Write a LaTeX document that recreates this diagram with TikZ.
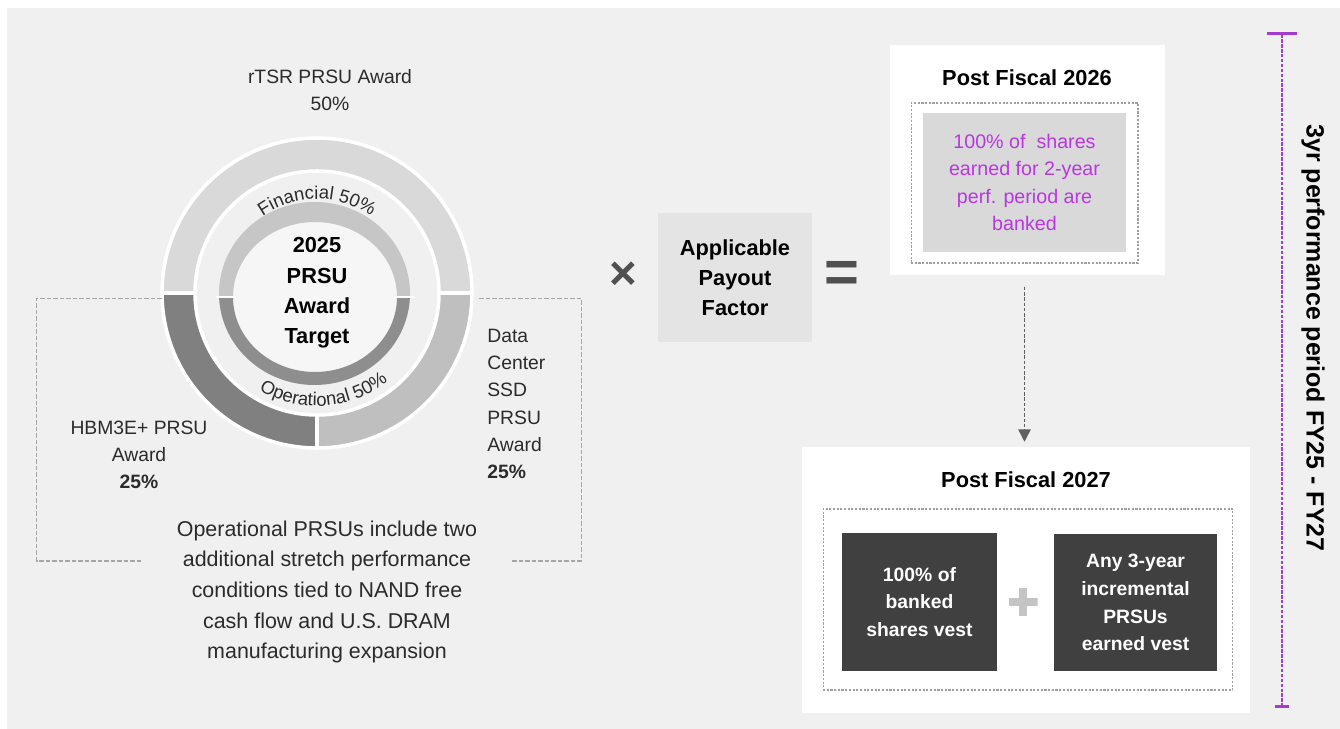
\documentclass[tikz,border=0pt]{standalone}
\usepackage{fontspec}
\setmainfont{Liberation Sans}
\usepackage{tikz}
\definecolor{panelgray}{HTML}{F0F0F0}
\definecolor{ringlight}{HTML}{D9D9D9}
\definecolor{ringmid}{HTML}{BFBFBF}
\definecolor{ringdark}{HTML}{808080}
\definecolor{innerlight}{HTML}{C6C6C6}
\definecolor{innerdark}{HTML}{8E8E8E}
\definecolor{payoutgray}{HTML}{E4E4E4}
\definecolor{bankgray}{HTML}{D9D9D9}
\definecolor{charcoal}{HTML}{404040}
\definecolor{darktext}{HTML}{2B2B2B}
\definecolor{opgray}{HTML}{505050}
\definecolor{plusgray}{HTML}{C4C4C4}
\definecolor{orchid}{RGB}{185,55,225}
\definecolor{periodpurple}{RGB}{165,60,205}
\usetikzlibrary{arrows.meta, decorations.text}

\begin{document}
\begin{tikzpicture}[x=0.02cm, y=0.02cm,
	awardtext/.style={align=center, inner sep=0pt, text=darktext, font=\fontsize{11}{15.5}\selectfont},
	boldtext/.style={align=center, inner sep=0pt, text=black, font=\bfseries\fontsize{12.4}{17.2}\selectfont},
	whitebox/.style={fill=white, inner sep=0pt},
	dashbox/.style={draw=gray!75, dash pattern=on 1.2pt off 0.9pt, line width=0.6pt, inner sep=0pt},
	darkbox/.style={fill=charcoal, text=white, align=center, inner sep=0pt, font=\bfseries\fontsize{11}{15.8}\selectfont},
	opsign/.style={inner sep=0pt, text=opgray, font=\bfseries\fontsize{27}{27}\selectfont},
	plussign/.style={minimum size=0.58cm, inner sep=0pt, path picture={\draw[plusgray, line width=5pt] (path picture bounding box.west) -- (path picture bounding box.east) (path picture bounding box.north) -- (path picture bounding box.south);}},
	bracket/.style={draw=gray!70, dash pattern=on 2.5pt off 1.2pt, line width=0.6pt},
	segment/.style={draw=white, line width=2pt},
	flowarrow/.style={draw=gray!75!black, line width=0.8pt, dash pattern=on 2pt off 1pt, -{Triangle[width=7pt, length=7pt]}, shorten <=6.5pt, shorten >=2.8pt},
	periodline/.style={draw=periodpurple, line width=0.9pt, dash pattern=on 2pt off 0.8pt, {Bar[width=17pt, line width=1.7pt]}-{Bar[width=8.5pt, line width=1.7pt]}}
	]
			\useasboundingbox (0,0) rectangle (1340,-729);
			\fill[white] (0,0) rectangle (1340,-729);
			\fill[panelgray] (7,-8) rectangle (1340,-729);
			
			\node[circle, minimum size=6.2cm, inner sep=0pt] (donut) at (317,-293) {};
			\filldraw[segment, fill=ringlight] ([shift={(0:155)}]donut.center) arc[start angle=0, end angle=180, radius=155] -- ++(33,0) arc[start angle=180, end angle=0, radius=122] -- cycle;
			\filldraw[segment, fill=ringdark] ([shift={(180:155)}]donut.center) arc[start angle=180, end angle=270, radius=155] -- ++(0,33) arc[start angle=270, end angle=180, radius=122] -- cycle;
			\filldraw[segment, fill=ringmid] ([shift={(270:155)}]donut.center) arc[start angle=270, end angle=360, radius=155] -- ++(-33,0) arc[start angle=360, end angle=270, radius=122] -- cycle;
			
			\fill[white!40!panelgray] (315,-297) ellipse[x radius=82, y radius=75];
			\begin{scope}
				\clip (200,-297) rectangle (430,-195);
				\fill[innerlight, even odd rule] (314.5,-293.5) ellipse[x radius=95.5, y radius=91.5] (315,-297) ellipse[x radius=82, y radius=75];
			\end{scope}
			\begin{scope}
				\clip (200,-297) rectangle (430,-400);
				\fill[innerdark, even odd rule] (314.5,-293.5) ellipse[x radius=95.5, y radius=91.5] (315,-297) ellipse[x radius=82, y radius=75];
			\end{scope}
			\draw[white, line width=1.5pt] (216,-297) -- (236,-297) (394,-297) -- (414,-297);
			
			\path[decorate, decoration={text along path, text align=center, text color=darktext,
				text={|\fontsize{10.5}{12}\selectfont|Financial 50{\%}}}] ([shift={(128:94)}]donut.center) arc[start angle=128, end angle=52, radius=94];
			\path[decorate, decoration={text along path, text align=center, text color=darktext,
				text={|\fontsize{10.5}{12}\selectfont|Operational 50{\%}}}] ([shift={(234:113)}]donut.center) arc[start angle=234, end angle=314, radius=113];
			
			\node[boldtext] (target) at (donut.center) {2025\\PRSU\\Award\\Target};
			\node[awardtext] (rtsr) at (330,-90) {rTSR PRSU Award\\50\%};
			\node[awardtext] (hbm) at (139,-455) {HBM3E+ PRSU\\Award\\\textbf{25\%}};
			\node[awardtext, align=left, anchor=west] (ssd) at (487,-404) {Data\\Center\\SSD\\PRSU\\Award\\\textbf{25\%}};
			\node[awardtext, font=\fontsize{12.2}{17.4}\selectfont] (note) at (327,-592) {Operational PRSUs include two\\additional stretch performance\\conditions tied to NAND free\\cash flow and U.S. DRAM\\manufacturing expansion};
			
			\coordinate (lend) at (142,-561);
			\coordinate (rend) at (511,-561);
			\draw[bracket] (donut.182) -- ++(-125,0) |- (lend);
			\draw[bracket, shorten <=4pt] (donut.-2) -- ++(109,0) |- (rend);
			
			\node[opsign] (times) at (623,-276) {×};
			\node[boldtext, fill=payoutgray, minimum width=3.08cm, minimum height=2.58cm] (payout) at (735,-277.5) {Applicable\\Payout\\Factor};
			\node[opsign, font=\bfseries\fontsize{34}{34}\selectfont] (equals) at (842,-277) {=};
			
			\node[whitebox, minimum width=5.5cm, minimum height=4.6cm] (fy26) at (1027.5,-160) {};
			\node[boldtext] (fy26title) at (1027,-78) {Post Fiscal 2026};
			\node[dashbox, minimum width=4.54cm, minimum height=3.2cm] (bankframe) at (1024.5,-183) {};
			\node[fill=bankgray, inner sep=0pt, minimum width=4.06cm, minimum height=2.78cm, align=center, text=orchid, font=\fontsize{11.2}{15.7}\selectfont] (bankbox) at (1024.5,-182.5) {100\% of \ shares\\earned for 2-year\\perf. period are\\banked};
			
			\node[whitebox, minimum width=8.96cm, minimum height=5.32cm] (fy27) at (1026,-580) {};
			\node[boldtext] (fy27title) at (1026,-480) {Post Fiscal 2027};
			\node[dashbox, minimum width=8.2cm, minimum height=3.62cm] (vestframe) at (1028,-599.5) {};
			\node[darkbox, minimum width=3.1cm, minimum height=2.76cm] (banked) at (919.5,-602) {100\% of\\banked\\shares vest};
			\node[plussign] (plus) at (1023,-602) {};
			\node[darkbox, minimum width=3.26cm, minimum height=2.74cm] (incremental) at (1135.5,-602.5) {Any 3-year\\incremental\\PRSUs\\earned vest};
			
			\draw[flowarrow] (bankbox.south |- fy26.south) -- (bankbox.south |- fy27.north);
			
			\coordinate (ptop) at (1282,-32);
			\coordinate (pbot) at (1282,-708);
			\draw[periodline] (ptop) -- (pbot);
			\node[rotate=-90, inner sep=0pt, text=black, font=\bfseries\fontsize{14.2}{16}\selectfont] (period) at (1313,-338) {3yr performance period FY25 - FY27};
			
			%	\draw[bracket] (note.north) -- (donut.south);
\end{tikzpicture}
\end{document}
